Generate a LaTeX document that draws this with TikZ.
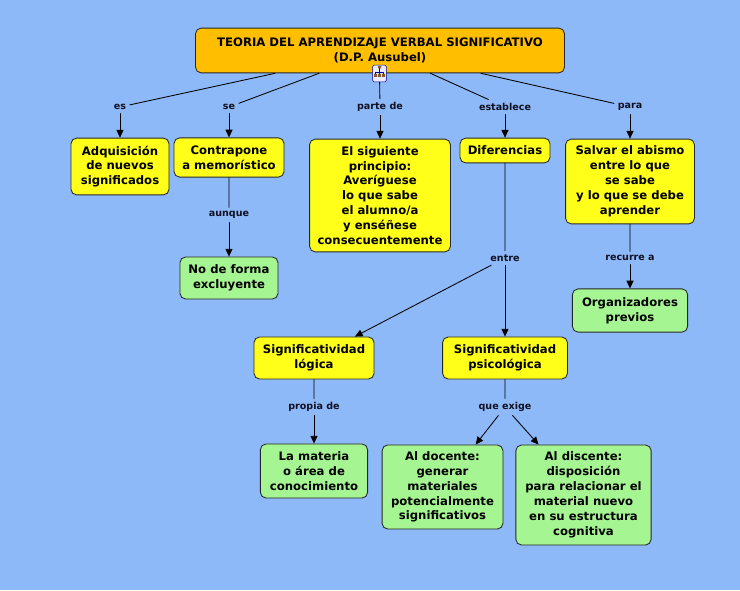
\documentclass[tikz,border=0pt]{standalone}
\usepackage{fontspec}
\setmainfont{DejaVu Sans}
\usetikzlibrary{arrows.meta}
\definecolor{fondo}{HTML}{8EB9F8}
\definecolor{naranja}{HTML}{FFBF00}
\definecolor{amarillo}{HTML}{FFFF1A}
\definecolor{verde}{HTML}{A5F592}
\definecolor{tinta}{HTML}{101020}
\begin{document}
\begin{tikzpicture}[x=0.025cm, y=-0.025cm, font=\bfseries\fontsize{8.3}{10.6}\selectfont, line join=round, line cap=round, >={Triangle[length=5.5pt,width=5pt]},
	concepto/.style={draw=black!85, line width=0.6pt, rounded corners=4pt, align=center, inner sep=2pt},
	amar/.style={concepto, fill=amarillo},
	verd/.style={concepto, fill=verde},
	enlace/.style={font=\bfseries\fontsize{6.8}{8}\selectfont, text=tinta, inner sep=2.5pt}]
	\fill[fondo] (0,0) rectangle (740,590);
	% conceptos
	\node[concepto, fill=naranja, minimum width=9.22cm, minimum height=1.12cm] (teoria) at (380,50.5) {TEORIA DEL APRENDIZAJE VERBAL SIGNIFICATIVO\\(D.P. Ausubel)};
	\node[amar, minimum width=2.45cm, minimum height=1.42cm] (adq) at (120,166.5) {Adquisición\\de nuevos\\significados};
	\node[amar, minimum width=2.75cm, minimum height=0.98cm] (contra) at (229,157.5) {Contrapone\\a memorístico};
	\node[amar, minimum width=3.52cm, minimum height=2.82cm] (principio) at (380,195.5) {El siguiente\\principio:\\Averíguese\\lo que sabe\\el alumno/a\\y enséñese\\consecuentemente};
	\node[amar, minimum width=2.25cm, minimum height=0.62cm] (dif) at (505,150.5) {Diferencias};
	\node[amar, minimum width=3.22cm, minimum height=2.12cm] (salvar) at (630,181.5) {Salvar el abismo\\entre lo que\\se sabe\\y lo que se debe\\aprender};
	\node[verd, minimum width=2.45cm, minimum height=1.05cm] (noforma) at (229,278) {No de forma\\excluyente};
	\node[verd, minimum width=2.88cm, minimum height=1.08cm] (organ) at (630,310.5) {Organizadores\\previos};
	\node[amar, minimum width=3.0cm, minimum height=1.05cm] (slogica) at (314,358) {Significatividad\\lógica};
	\node[amar, minimum width=3.12cm, minimum height=1.05cm] (spsico) at (505,358) {Significatividad\\psicológica};
	\node[verd, minimum width=2.68cm, minimum height=1.35cm] (materia) at (314,471) {La materia\\o área de\\conocimiento};
	\node[verd, minimum width=3.02cm, minimum height=2.1cm] (docente) at (442.5,487) {Al docente:\\generar\\materiales\\potencialmente\\significativos};
	\node[verd, minimum width=3.38cm, minimum height=2.5cm] (discente) at (583.5,495) {Al discente:\\disposición\\para relacionar el\\material nuevo\\en su estructura\\cognitiva};
	% icono
	\node[draw=blue!60!black, fill=blue!8, rounded corners=1pt, minimum width=0.34cm, minimum height=0.42cm, inner sep=0pt] (icono) at (379.5,73.5) {};
	\draw[blue!60!black, line width=0.4pt] (379.5,68) -- (379.5,72) (375.5,74) -- (375.5,72) -- (383.5,72) -- (383.5,74) (379.5,72) -- (379.5,74);
	\fill[brown!70!black] (378,66) rectangle (381,68.5) (374,74) rectangle (377,77) (378,74) rectangle (381,77) (382,74) rectangle (385,77);
	% enlaces
	\node[enlace] (es) at (120,107) {es};
	\node[enlace] (se) at (229,107) {se};
	\node[enlace] (parte) at (380,107) {parte de};
	\node[enlace] (establece) at (505,107) {establece};
	\node[enlace] (para) at (630,107) {para};
	\node[enlace] (aunque) at (229,215) {aunque};
	\node[enlace] (entre) at (505,258) {entre};
	\node[enlace] (recurre) at (630,258) {recurre a};
	\node[enlace] (propia) at (314,407) {propia de};
	\node[enlace] (exige) at (505,407) {que exige};
	\draw[line width=0.6pt] (teoria) -- (es) (teoria) -- (se) (icono) -- (parte) (teoria) -- (establece) (teoria) -- (para)
		(contra) -- (aunque) (dif) -- (entre) (salvar) -- (recurre) (slogica) -- (propia) (spsico) -- (exige);
	\draw[->, line width=0.6pt] (es) -- (adq);
	\draw[->, line width=0.6pt] (se) -- (contra);
	\draw[->, line width=0.6pt] (parte) -- (principio);
	\draw[->, line width=0.6pt] (establece) -- (dif);
	\draw[->, line width=0.6pt] (para) -- (salvar);
	\draw[->, line width=0.6pt] (aunque) -- (noforma);
	\draw[->, line width=0.6pt] (entre) -- (slogica);
	\draw[->, line width=0.6pt] (entre) -- (spsico);
	\draw[->, line width=0.6pt] (recurre) -- (organ);
	\draw[->, line width=0.6pt] (propia) -- (materia);
	\draw[->, line width=0.6pt] (exige) -- (docente);
	\draw[->, line width=0.6pt] (exige) -- (discente);
\end{tikzpicture}
\end{document}
